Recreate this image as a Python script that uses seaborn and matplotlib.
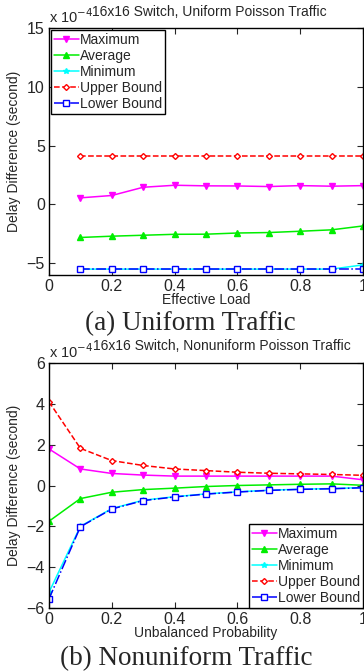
import numpy as np
import pandas as pd
import seaborn as sns
import matplotlib.pyplot as plt

# values in units of 1e-4 second
load = [0.1, 0.2, 0.3, 0.4, 0.5, 0.6, 0.7, 0.8, 0.9, 1.0]
u_max = [0.56, 0.76, 1.46, 1.63, 1.58, 1.57, 1.52, 1.60, 1.55, 1.60]
u_avg = [-2.81, -2.70, -2.62, -2.54, -2.53, -2.43, -2.39, -2.28, -2.16, -1.83]
u_min = [-5.5, -5.5, -5.5, -5.5, -5.5, -5.5, -5.5, -5.5, -5.5, -5.14]
u_upper = [4.15] * 10
u_lower = [-5.5] * 10

prob = [0.0, 0.1, 0.2, 0.3, 0.4, 0.5, 0.6, 0.7, 0.8, 0.9, 1.0]
n_max = [1.79, 0.81, 0.59, 0.51, 0.46, 0.46, 0.46, 0.46, 0.46, 0.46, 0.28]
n_avg = [-1.75, -0.64, -0.33, -0.20, -0.13, -0.05, 0.0, 0.03, 0.06, 0.08, 0.01]
n_min = [-5.23, -2.0, -1.13, -0.72, -0.55, -0.41, -0.31, -0.23, -0.18, -0.15, -0.10]
n_upper = [4.1, 1.82, 1.22, 0.98, 0.81, 0.73, 0.65, 0.60, 0.57, 0.54, 0.50]
n_lower = [-5.55, -2.02, -1.15, -0.74, -0.56, -0.42, -0.32, -0.24, -0.19, -0.16, -0.11]

names = ["Maximum", "Average", "Minimum", "Upper Bound", "Lower Bound"]

sns.set_style("ticks")
plt.rcParams['font.family'] = ['Liberation Sans', 'DejaVu Sans']
plt.rcParams['xtick.direction'] = 'in'
plt.rcParams['ytick.direction'] = 'in'
plt.rcParams['axes.unicode_minus'] = True

styles = {
    "Maximum": dict(color="#ff00ff", marker="v", linestyle="-", mfc="#ff00ff"),
    "Average": dict(color="#00ee00", marker="^", linestyle="-", mfc="#00ee00"),
    "Minimum": dict(color="#00ffff", marker="*", linestyle="-", mfc="#00ffff"),
    "Upper Bound": dict(color="#ff0000", marker="D", linestyle="--", mfc="white"),
    "Lower Bound": dict(color="#0000ff", marker="s", linestyle="-.", mfc="white"),
}

fig = plt.figure(figsize=(3.64, 6.72), dpi=100)
ax1 = fig.add_axes([49/364, 1-275/672, 314/364, 247/672])
ax2 = fig.add_axes([49/364, 1-608/672, 314/364, 245/672])


def draw(ax, x, series):
    for name, vals in zip(names, series):
        st = styles[name]
        ms = 4 if name != "Upper Bound" else 3
        sns.lineplot(x=x, y=vals, ax=ax, color=st["color"], marker=st["marker"],
                     linestyle=st["linestyle"], markerfacecolor=st["mfc"],
                     markeredgecolor=st["color"], markersize=ms, markeredgewidth=1,
                     linewidth=1.1, label=name)
    ax.set_xlim(0, 1)
    ax.set_xticks([0, 0.2, 0.4, 0.6, 0.8, 1])
    ax.set_xticklabels(["0", "0.2", "0.4", "0.6", "0.8", "1"])
    ax.tick_params(labelsize=11.5, top=True, right=True, length=4, width=0.8, pad=3)
    for sp in ax.spines.values():
        sp.set_visible(True)
        sp.set_linewidth(1)
        sp.set_color("black")
    ax.set_ylabel("Delay Difference (second)", fontsize=10)
    ax.yaxis.set_label_coords(-0.09, 0.5)


draw(ax1, load, [u_max, u_avg, u_min, u_upper, u_lower])
ax1.set_ylim(-6, 15)
ax1.set_yticks([-5, 0, 5, 10, 15])
ax1.set_xlabel("Effective Load", fontsize=10, labelpad=-1)
ax1.set_title("16x16 Switch, Uniform Poisson Traffic", fontsize=10, pad=9, x=0.51)
ax1.legend(loc="upper left", fontsize=10, frameon=True, fancybox=False,
           edgecolor="black", framealpha=1, handlelength=1.8, handletextpad=0.1,
           borderpad=0.2, labelspacing=0.15, borderaxespad=0.15)
ax1.text(0.0, 1.01, "x 10$^{-4}$", transform=ax1.transAxes, fontsize=10.5, va="bottom")

draw(ax2, prob, [n_max, n_avg, n_min, n_upper, n_lower])
ax2.set_ylim(-6, 6)
ax2.set_yticks([-6, -4, -2, 0, 2, 4, 6])
ax2.set_xlabel("Unbalanced Probability", fontsize=10, labelpad=-1)
ax2.set_title("16x16 Switch, Nonuniform Poisson Traffic", fontsize=10, pad=9, x=0.55)
ax2.legend(loc="lower right", fontsize=10, frameon=True, fancybox=False,
           edgecolor="black", framealpha=1, handlelength=1.8, handletextpad=0.1,
           borderpad=0.2, labelspacing=0.15, borderaxespad=0.0)
ax2.text(0.0, 1.01, "x 10$^{-4}$", transform=ax2.transAxes, fontsize=10.5, va="bottom")

fig.text(0.523, 1-330/672, "(a) Uniform Traffic", family="Liberation Serif",
         fontsize=19.5, ha="center", va="baseline")
fig.text(0.511, 1-665/672, "(b) Nonuniform Traffic", family="Liberation Serif",
         fontsize=19.5, ha="center", va="baseline")

fig.savefig("out.png", dpi=100)
